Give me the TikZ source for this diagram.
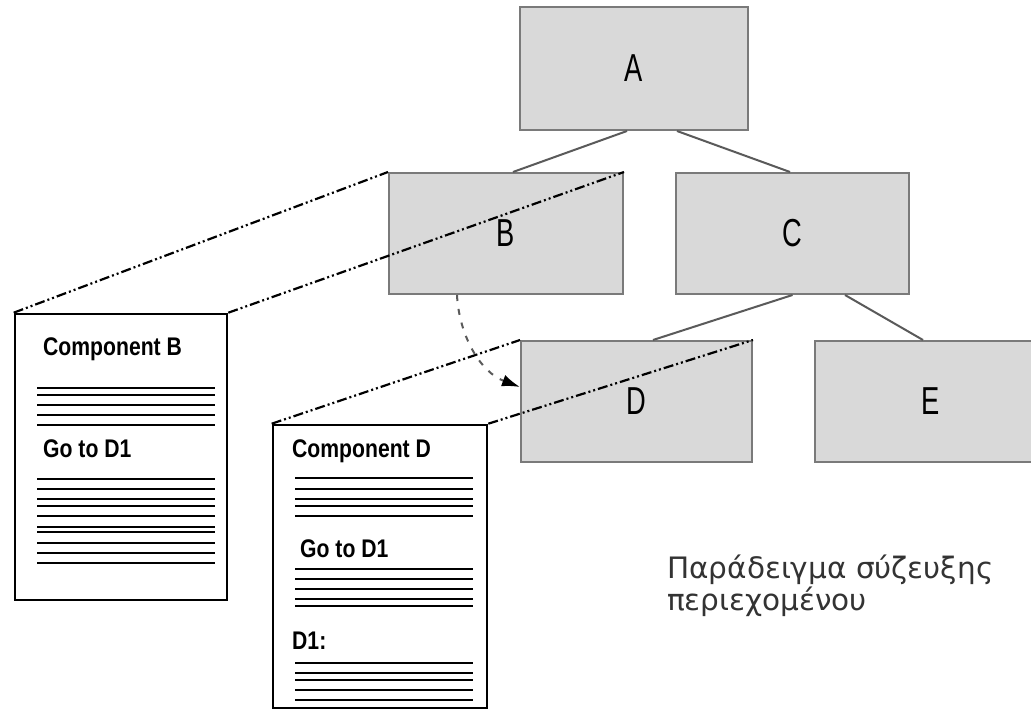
\documentclass[tikz,border=0pt]{standalone}
\usepackage{fontspec}
\setmainfont{Liberation Sans}
\newfontfamily\boxfont[FakeStretch=0.7]{Liberation Sans}
\newfontfamily\docfont[FakeStretch=0.83]{Liberation Sans}
\newfontfamily\captionfont{DejaVu Sans}
\usetikzlibrary{arrows.meta}
\definecolor{boxfill}{HTML}{D9D9D9}
\definecolor{boxedge}{HTML}{7A7A7A}
\definecolor{treeedge}{HTML}{5A5A5A}
\tikzset{
  unit/.style={draw=boxedge, line width=2pt, fill=boxfill, minimum width=231pt, minimum height=121pt, inner sep=0pt, font=\boxfont\fontsize{39}{40}\selectfont},
  doc/.style={draw=black, line width=2.6pt, fill=white, inner sep=0pt},
  doctext/.style={anchor=west, inner sep=0pt, font=\docfont\bfseries\fontsize{25.5}{27}\selectfont},
  treeline/.style={draw=treeedge, line width=2pt},
  zoomline/.style={draw=black, line width=2.2pt, dash pattern=on 10pt off 3pt on 2pt off 3pt on 2pt off 3pt},
  callarrow/.style={draw=treeedge, line width=2pt, dash pattern=on 6pt off 8pt, -{Latex[length=18pt,width=12pt,color=black]}},
  textrule/.style={draw=black, line width=2.6pt}
}
\begin{document}
\begin{tikzpicture}[x=1pt,y=-1pt]
\clip (0,0) rectangle (1031,711);
\fill[white] (0,0) rectangle (1031,711);
% tree boxes
\node[unit, minimum width=228pt, minimum height=123pt] (A) at (634,68.5) {A};
\node[unit, minimum width=234pt] (B) at (506,233.5) {B};
\node[unit, minimum width=233pt] (C) at (792.5,233.5) {C};
\node[unit] (D) at (636.5,401.5) {D};
\node[unit] (E) at (930.5,401.5) {E};
% tree edges
\draw[treeline] ([xshift=-7pt]A.south) -- ([xshift=7pt]B.north);
\draw[treeline] ([xshift=43pt]A.south) -- ([xshift=-2.5pt]C.north);
\draw[treeline] (C.south) -- ([xshift=16.5pt]D.north);
\draw[treeline] ([xshift=52.5pt]C.south) -- ([xshift=-7.5pt]E.north);
% documents
\node[doc, minimum width=212pt, minimum height=286pt] (docB) at (121,457) {};
\node[doc, minimum width=214pt, minimum height=283pt] (docD) at (380,566.5) {};
% doc B contents
\node[doctext] (tB1) at (43,349) {Component B};
\node[doctext] (tB2) at (43,449) {Go to D1};
\foreach \y in {388,395,405,415,425,479,489,499,506,516,527,532,543,553,563}
  \draw[textrule] (37,\y) -- (215,\y);
% doc D contents
\node[doctext] (tD1) at (292,451) {Component D};
\node[doctext] (tD2) at (300,549) {Go to D1};
\node[doctext] (tD3) at (292,641) {D1:};
\foreach \y in {478,489,499,506,516,569,579,589,599,606,663,673,680,690,700}
  \draw[textrule] (295,\y) -- (473,\y);
% zoom lines
\draw[zoomline] (docB.north west) -- (B.north west);
\draw[zoomline] (docB.north east) -- (B.north east);
\draw[zoomline] (docD.north west) -- (D.north west);
\draw[zoomline] (docD.north east) -- (D.north east);
% call arrow
\coordinate (callstart) at ([xshift=-49pt]B.south);
\coordinate (callend) at ([yshift=14.5pt]D.west);
\draw[callarrow] (callstart) .. controls (459,335) and (480,372) .. (callend);
% caption
\node[anchor=north west, inner sep=0pt, align=left, text=black!80, font=\captionfont\fontsize{29.5}{32}\selectfont] (caption) at (667,555) {Παράδειγμα σύζευξης\\περιεχομένου};
\end{tikzpicture}
\end{document}
